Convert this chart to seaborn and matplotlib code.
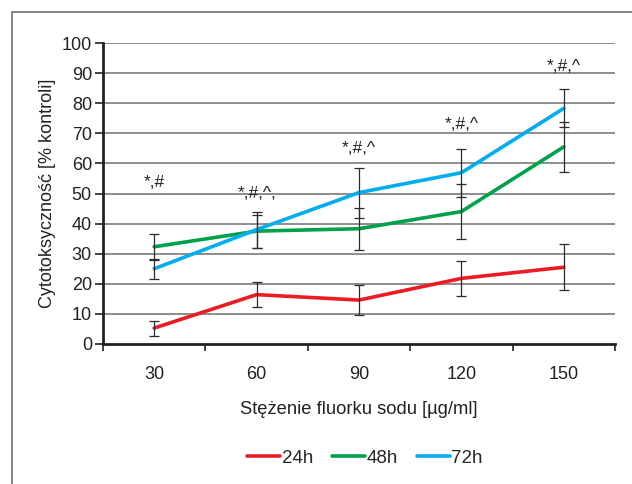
import numpy as np
import pandas as pd
import seaborn as sns
import matplotlib as mpl
from matplotlib import pyplot as plt
from matplotlib.patches import Rectangle

sns.set_style("white")
mpl.rcParams['font.family'] = ["Liberation Sans", "DejaVu Sans"]

# data
concentration = [30, 60, 90, 120, 150]
mean_24h = [5.3, 16.4, 14.6, 21.8, 25.5]
sd_24h = [2.5, 4.1, 5.0, 5.9, 7.7]
mean_48h = [32.3, 37.5, 38.3, 44.0, 65.5]
sd_48h = [4.4, 5.5, 7.0, 9.0, 8.2]
mean_72h = [25.0, 38.0, 50.3, 56.9, 78.3]
sd_72h = [3.4, 6.0, 8.3, 8.0, 6.3]

series = ["24h", "48h", "72h"]
marks = ["*,#", "*,#,^,", "*,#,^", "*,#,^", "*,#,^"]
mark_y = [53.5, 50.0, 65.0, 72.8, 92.2]

PALETTE = {"24h": "#EC1C24", "48h": "#00A14B", "72h": "#00AEEF"}

df = pd.DataFrame({
    "conc": concentration * 3,
    "value": mean_24h + mean_48h + mean_72h,
    "sd": sd_24h + sd_48h + sd_72h,
    "czas": [s for s in series for _ in concentration],
})

fig = plt.figure(figsize=(6.32, 4.84), dpi=100)
ax = fig.add_axes([103 / 632, 1 - 344 / 484, 512 / 632, 301 / 484])

# outer frame (only left and top edges are visible in the original)
fig.patches.append(Rectangle((12 / 632, -0.1), 1.2, 1 - 12 / 484 + 0.1,
                             transform=fig.transFigure, fill=False,
                             edgecolor="#7a7a7a", lw=1.3, zorder=0))

for y in range(10, 101, 10):
    ax.axhline(y, color="#7a7a7a", lw=1.2, zorder=0)

sns.lineplot(data=df, x="conc", y="value", hue="czas", hue_order=series,
             palette=PALETTE, lw=2.6, ax=ax, legend=True, zorder=3)

for s in series:
    sub = df[df["czas"] == s]
    ax.errorbar(sub["conc"], sub["value"], yerr=sub["sd"], fmt="none",
                ecolor="#2b2b2b", elinewidth=0.9, capsize=3.5,
                capthick=0.9, zorder=4)

for x, t, y in zip(concentration, marks, mark_y):
    ax.text(x, y, t, ha="center", va="center", fontsize=12.5, color="#222222")

ax.set_xlim(15, 165)
ax.set_ylim(0, 100)
ax.set_yticks(range(0, 101, 10))
ax.set_xticks(range(15, 166, 30))
ax.set_xticklabels([])
ax.set_xticks(concentration, minor=True)
ax.set_xticklabels([str(c) for c in concentration], minor=True)
ax.tick_params(axis="x", which="major", length=5, width=1.2, direction="out",
               bottom=True, color="#222222")
ax.tick_params(axis="x", which="minor", length=0, pad=16, labelsize=13,
               labelcolor="#222222")
ax.tick_params(axis="y", length=6, width=1.2, direction="out", left=True,
               labelsize=13, labelcolor="#222222", color="#222222", pad=2)

for side in ["top", "right"]:
    ax.spines[side].set_visible(False)
for side in ["left", "bottom"]:
    ax.spines[side].set_color("#222222")
    ax.spines[side].set_linewidth(2)

ax.set_xlabel("Stężenie fluorku sodu [µg/ml]", fontsize=13.2, color="#222222",
              labelpad=13)
ax.set_ylabel("Cytotoksyczność [% kontroli]", fontsize=13, color="#222222",
              labelpad=4)

handles, labels = ax.get_legend_handles_labels()
ax.legend(handles, labels, loc="center", bbox_to_anchor=(365 / 632, 1 - 458 / 484),
          bbox_transform=fig.transFigure, ncol=3, frameon=False, fontsize=13.5,
          handlelength=1.75, handletextpad=0.1, columnspacing=1.0)

plt.savefig("out.png", dpi=100)
